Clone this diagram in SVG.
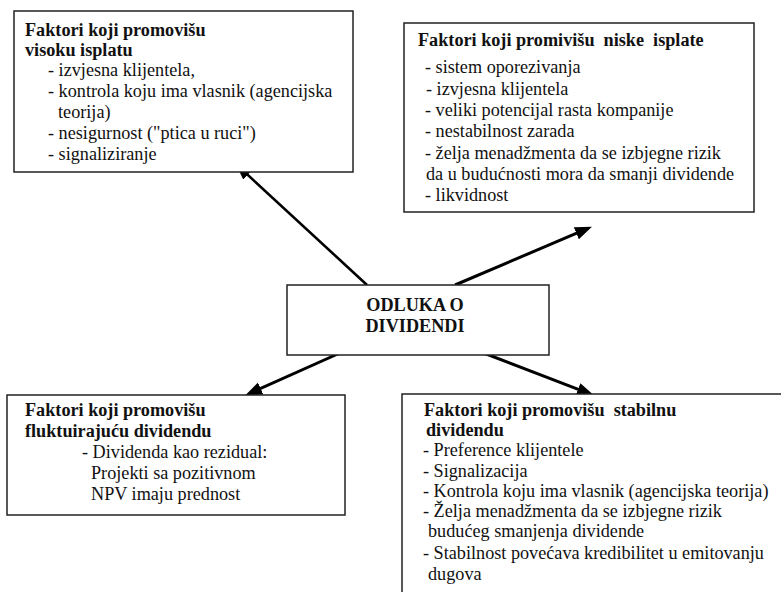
<svg xmlns="http://www.w3.org/2000/svg" width="781" height="592" viewBox="0 0 781 592">
<defs>
<style>
.box{fill:#fff;stroke:#222;stroke-width:1.5}
.t{font-family:"Liberation Serif","Times New Roman",serif;font-size:18.2px;fill:#111;white-space:pre}
.b{font-weight:bold}
.arr{stroke:#000;stroke-width:3;fill:none;marker-end:url(#ah)}
</style>
<marker id="ah" markerUnits="userSpaceOnUse" markerWidth="18" markerHeight="14" refX="10" refY="6.5" orient="auto">
<path d="M0,0 L17,6.5 L0,13 z" fill="#000"/>
</marker>
</defs>
<rect width="781" height="592" fill="#fff"/>
<g id="connectors">
<line class="arr" x1="367" y1="285" x2="240.4" y2="168.1" style="stroke-width:2.6"/>
<line class="arr" x1="455" y1="285" x2="585.5" y2="229.4"/>
<line class="arr" x1="360" y1="344" x2="251.5" y2="392.6"/>
<line class="arr" x1="455" y1="342" x2="587.4" y2="392.8"/>
</g>
<g id="high">
<rect class="box" x="14" y="11" width="339" height="161"/>
<text class="t b" x="25" y="36">Faktori koji promovišu</text>
<text class="t b" x="25" y="56">visoku isplatu</text>
<text class="t" x="48" y="76">- izvjesna klijentela,</text>
<text class="t" x="48" y="97">- kontrola koju ima vlasnik (agencijska</text>
<text class="t" x="58" y="118">teorija)</text>
<text class="t" x="48" y="139">- nesigurnost ("ptica u ruci")</text>
<text class="t" x="48" y="160">- signaliziranje</text>
</g>
<g id="low">
<rect class="box" x="404" y="23" width="350" height="189"/>
<text class="t b" x="418" y="46">Faktori koji promivišu  niske  isplate</text>
<text class="t" x="425" y="73">- sistem oporezivanja</text>
<text class="t" x="426" y="95">- izvjesna klijentela</text>
<text class="t" x="425" y="116">- veliki potencijal rasta kompanije</text>
<text class="t" x="425" y="137">- nestabilnost zarada</text>
<text class="t" x="425" y="159">- želja menadžmenta da se izbjegne rizik</text>
<text class="t" x="426" y="180">da u budućnosti mora da smanji dividende</text>
<text class="t" x="425" y="201">- likvidnost</text>
</g>
<g id="center">
<rect class="box" x="287" y="285" width="262" height="70"/>
<text class="t b" x="415" y="311" text-anchor="middle">ODLUKA O</text>
<text class="t b" x="415" y="332" text-anchor="middle">DIVIDENDI</text>
</g>
<g id="fluct">
<rect class="box" x="7" y="395" width="338" height="120"/>
<text class="t b" x="25" y="416">Faktori koji promovišu</text>
<text class="t b" x="25" y="437">fluktuirajuću dividendu</text>
<text class="t" x="82" y="458">- Dividenda kao rezidual:</text>
<text class="t" x="91" y="479">Projekti sa pozitivnom</text>
<text class="t" x="91" y="500">NPV imaju prednost</text>
</g>
<g id="stable">
<rect class="box" x="402" y="394" width="420" height="230"/>
<text class="t b" x="424" y="416">Faktori koji promovišu  stabilnu</text>
<text class="t b" x="426" y="436">dividendu</text>
<text class="t" x="423" y="456">- Preference klijentele</text>
<text class="t" x="423" y="477">- Signalizacija</text>
<text class="t" x="423" y="497">- Kontrola koju ima vlasnik (agencijska teorija)</text>
<text class="t" x="423" y="517">- Želja menadžmenta da se izbjegne rizik</text>
<text class="t" x="428" y="537">budućeg smanjenja dividende</text>
<text class="t" x="423" y="559">- Stabilnost povećava kredibilitet u emitovanju</text>
<text class="t" x="428" y="580">dugova</text>
</g>
</svg>
